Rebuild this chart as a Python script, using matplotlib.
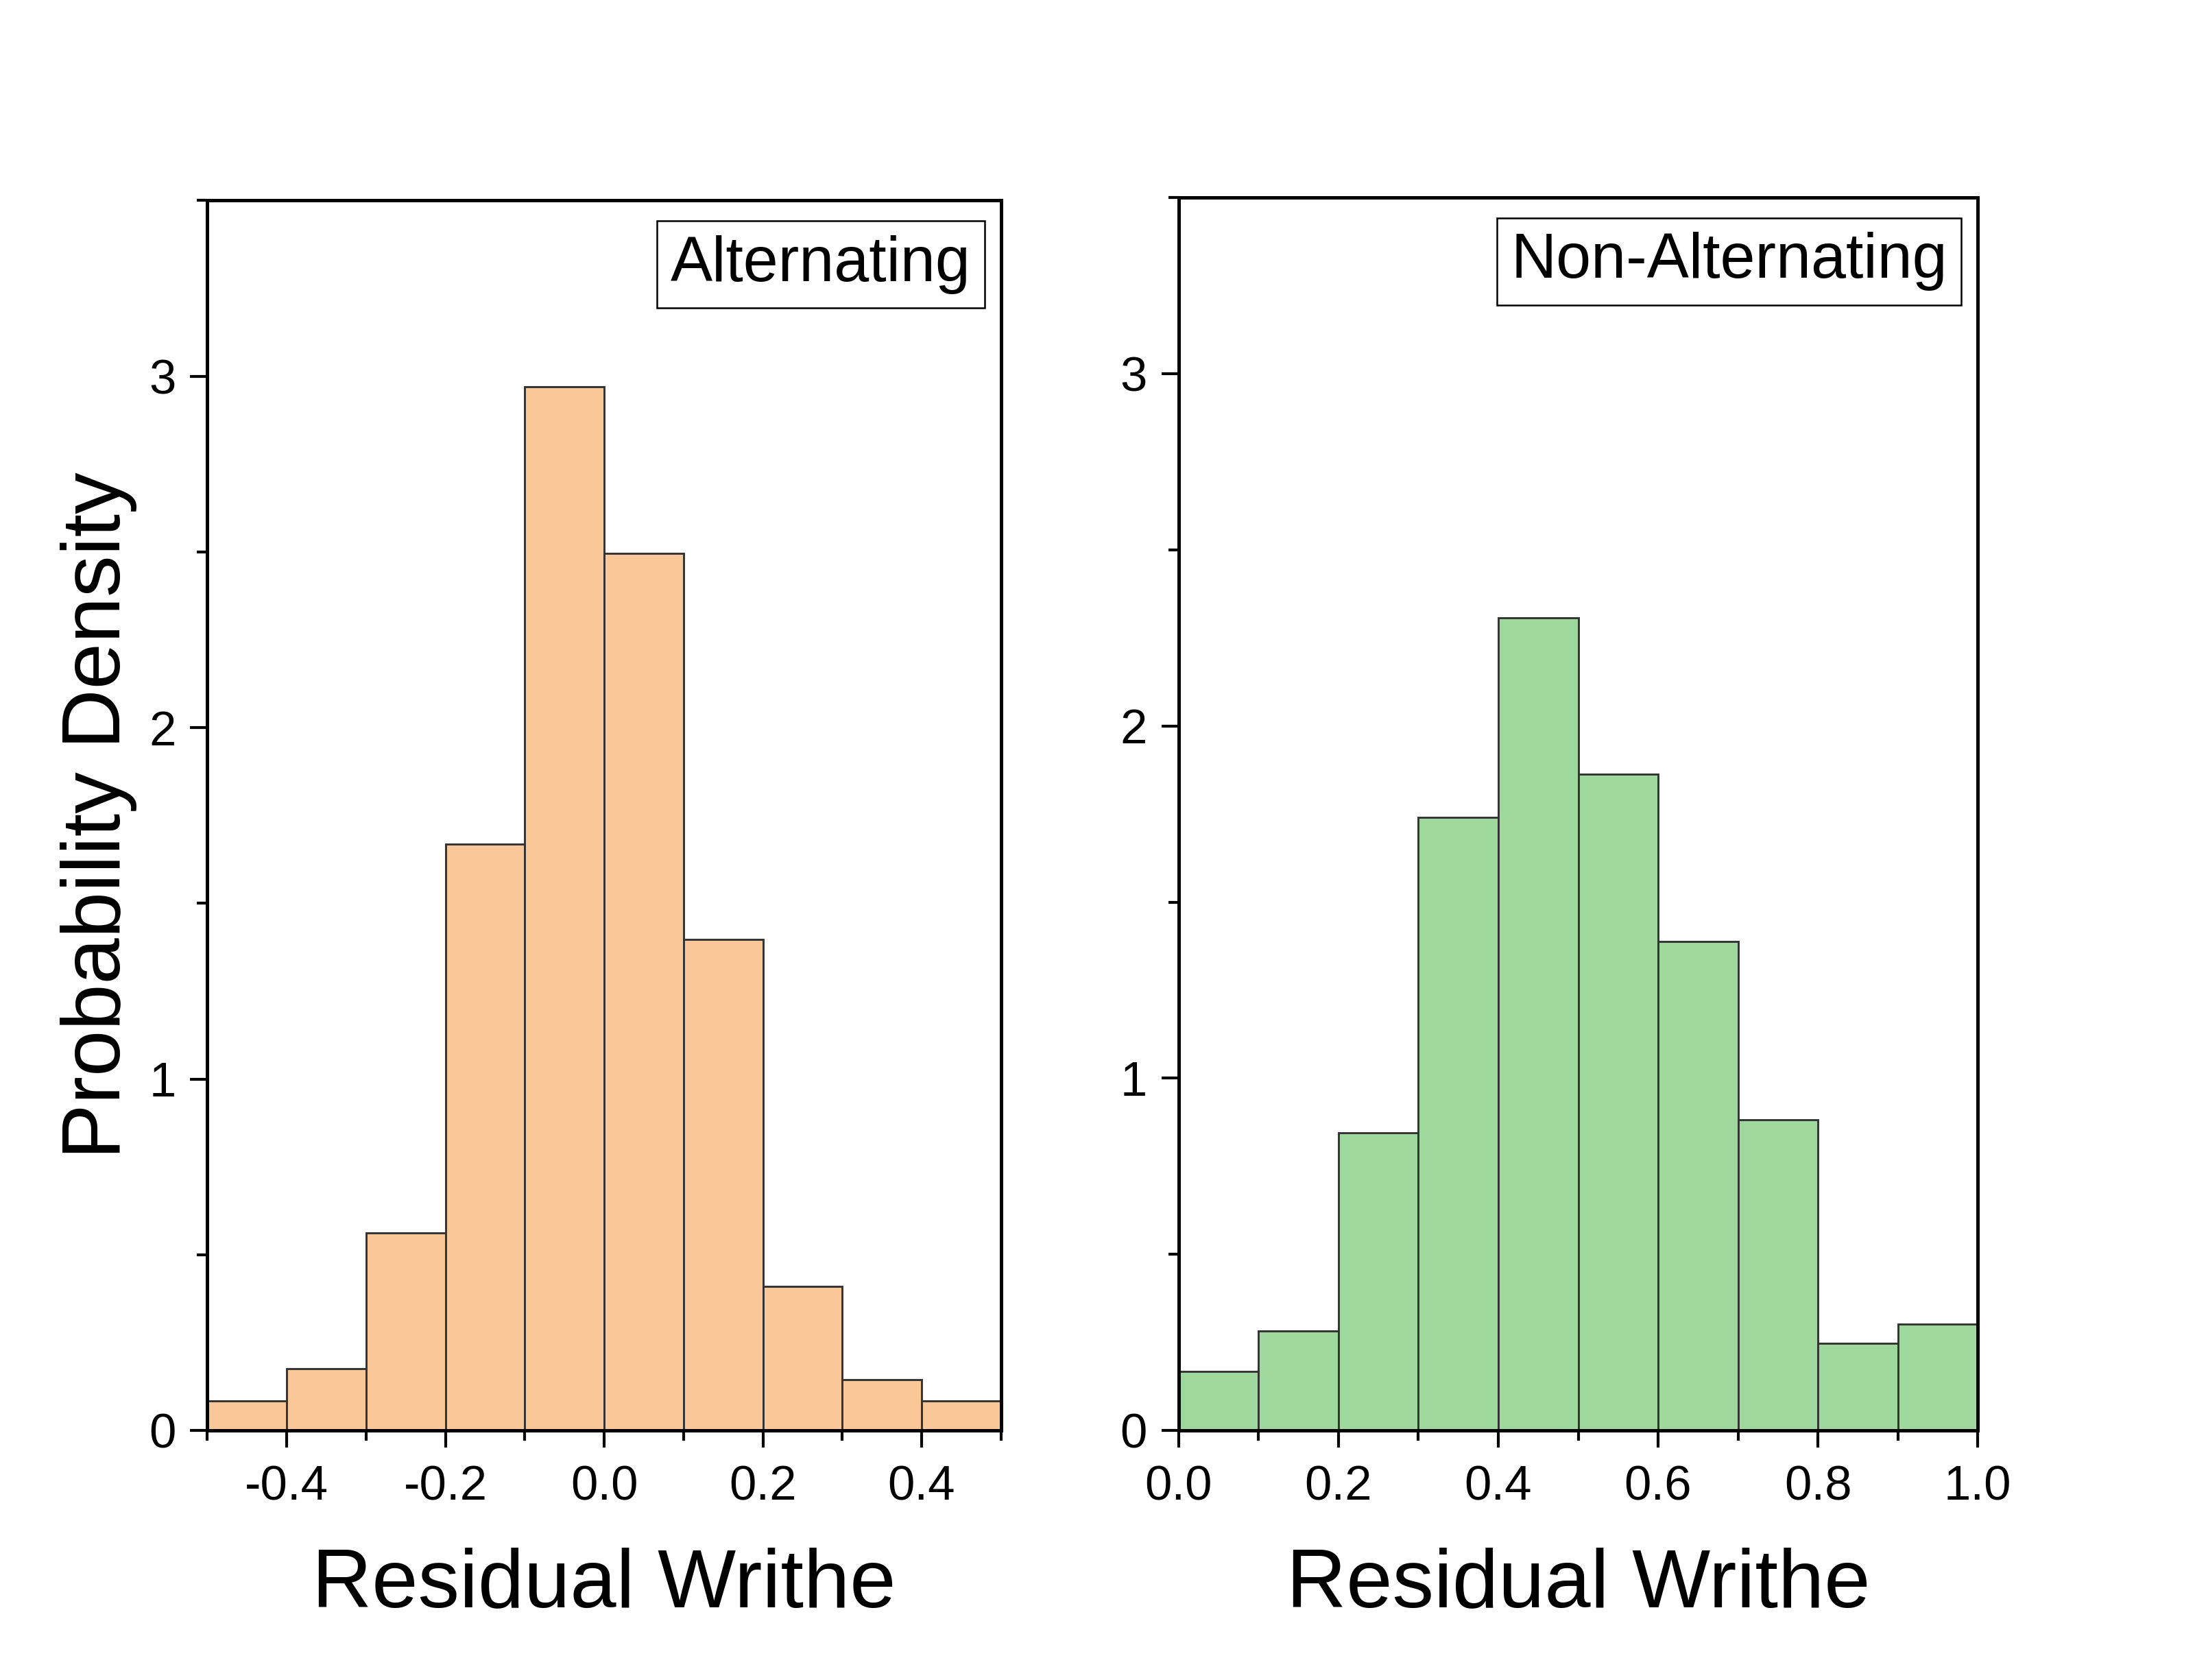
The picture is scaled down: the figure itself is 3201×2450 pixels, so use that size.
import matplotlib
matplotlib.use("Agg")
import matplotlib.pyplot as plt
import numpy as np
from matplotlib.ticker import MultipleLocator

plt.rcParams['font.family'] = ['Liberation Sans', 'DejaVu Sans']

# Data
alt_edges = [-0.5, -0.4, -0.3, -0.2, -0.1, 0.0, 0.1, 0.2, 0.3, 0.4, 0.5]
alt_density = [0.084, 0.176, 0.563, 1.669, 2.970, 2.495, 1.397, 0.411, 0.144, 0.084]
non_edges = [0.0, 0.1, 0.2, 0.3, 0.4, 0.5, 0.6, 0.7, 0.8, 0.9, 1.0]
non_density = [0.168, 0.283, 0.846, 1.741, 2.307, 1.864, 1.389, 0.882, 0.248, 0.303]
labels = ["Alternating", "Non-Alternating"]
xlabel = "Residual Writhe"
ylabel = "Probability Density"

fig = plt.figure(figsize=(3201/300, 2450/300), dpi=300)
ax1 = fig.add_axes([0.0945, 0.1485, 0.3615, 0.7322])
ax2 = fig.add_axes([0.5370, 0.1485, 0.3640, 0.7339])

def draw(ax, edges, dens, color, label, xlim, xmaj, xmin, xfmt):
    edges = np.array(edges)
    ax.bar(edges[:-1], dens, width=np.diff(edges), align='edge',
           color=color, edgecolor='#333333', linewidth=0.7)
    ax.set_xlim(*xlim)
    ax.set_ylim(0, 3.5)
    ax.xaxis.set_major_locator(MultipleLocator(xmaj))
    ax.xaxis.set_minor_locator(MultipleLocator(xmin))
    ax.yaxis.set_major_locator(MultipleLocator(1))
    ax.yaxis.set_minor_locator(MultipleLocator(0.5))
    ax.xaxis.set_major_formatter(plt.FuncFormatter(lambda v, p: xfmt.format(v + 0.0)))
    ax.tick_params(axis='both', which='major', direction='out', length=6, width=1.0,
                   labelsize=17, top=False, right=False)
    ax.tick_params(axis='x', which='major', pad=6)
    ax.tick_params(axis='y', which='major', pad=5)
    ax.tick_params(axis='both', which='minor', direction='out', length=3.5, width=1.0,
                   top=False, right=False)
    for s in ax.spines.values():
        s.set_linewidth(1.2)
    ax.set_xlabel(xlabel, fontsize=29, labelpad=13)
    ax.text(0.962, 0.972, label, transform=ax.transAxes, ha='right', va='top',
            fontsize=22,
            bbox=dict(boxstyle='square,pad=0.22', facecolor='white',
                      edgecolor='black', linewidth=0.6))

draw(ax1, alt_edges, alt_density, '#FAC898', labels[0], (-0.5, 0.5), 0.2, 0.1, "{:.1f}")
draw(ax2, non_edges, non_density, '#9ED89C', labels[1], (0.0, 1.0), 0.2, 0.1, "{:.1f}")
ax1.set_ylabel(ylabel, fontsize=29, labelpad=4)

fig.savefig("out.png", dpi=300)
